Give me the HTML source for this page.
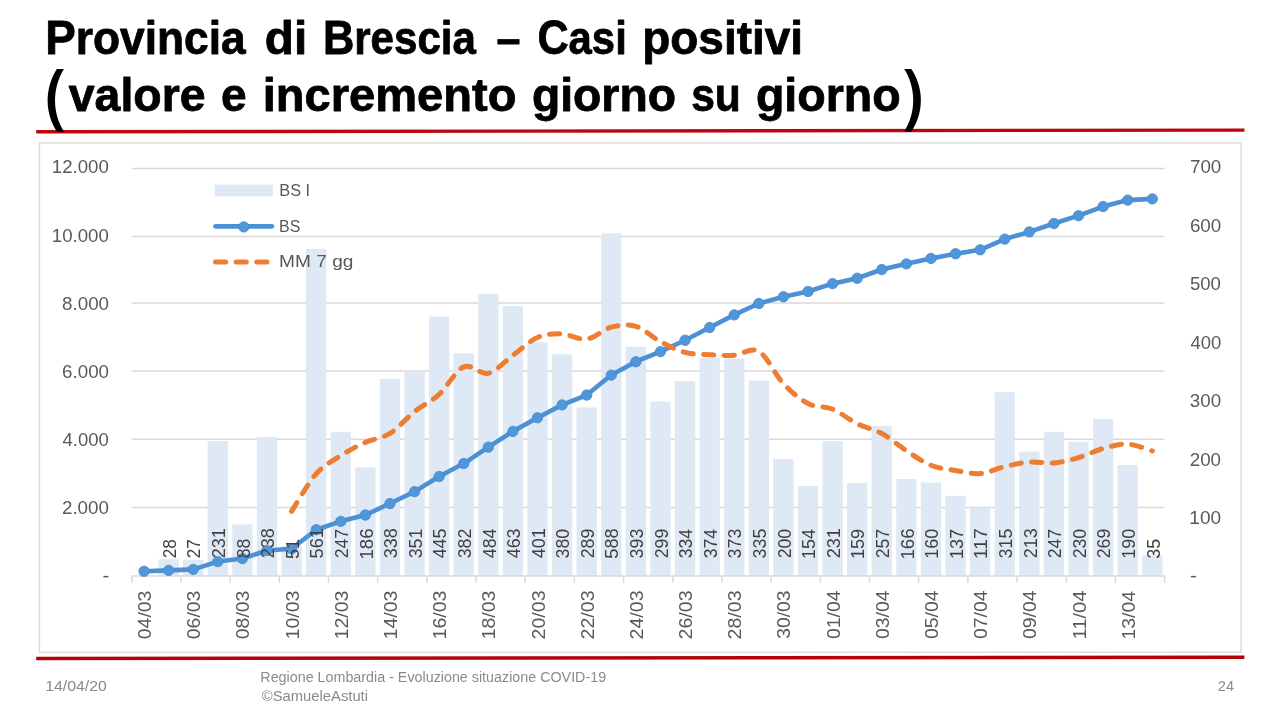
<!DOCTYPE html>
<html lang="it"><head><meta charset="utf-8"><title>Provincia di Brescia – Casi positivi</title>
<style>html,body{margin:0;padding:0;background:#fff;width:1280px;height:720px;overflow:hidden;font-family:"Liberation Sans",sans-serif}</style>
</head><body>
<svg width="1280" height="720" viewBox="0 0 1280 720" style="position:absolute;left:0;top:0;display:block;will-change:transform" font-family='"Liberation Sans", sans-serif'>
<rect x="0" y="0" width="1280" height="720" fill="#ffffff"/>
<rect x="39.5" y="142.9" width="1201.6" height="509.3" fill="#ffffff" stroke="#d9d9d9" stroke-width="1.3"/>
<line x1="131.75" y1="507.40" x2="1164.60" y2="507.40" stroke="#d9d9d9" stroke-width="1.5"/>
<line x1="131.75" y1="439.30" x2="1164.60" y2="439.30" stroke="#d9d9d9" stroke-width="1.5"/>
<line x1="131.75" y1="371.10" x2="1164.60" y2="371.10" stroke="#d9d9d9" stroke-width="1.5"/>
<line x1="131.75" y1="302.90" x2="1164.60" y2="302.90" stroke="#d9d9d9" stroke-width="1.5"/>
<line x1="131.75" y1="236.60" x2="1164.60" y2="236.60" stroke="#d9d9d9" stroke-width="1.5"/>
<line x1="131.75" y1="168.40" x2="1164.60" y2="168.40" stroke="#d9d9d9" stroke-width="1.5"/>
<g fill="#dee9f5">
<rect x="158.49" y="559.30" width="20.3" height="16.70"/>
<rect x="183.08" y="559.88" width="20.3" height="16.12"/>
<rect x="207.67" y="441.12" width="20.3" height="134.88"/>
<rect x="232.26" y="524.37" width="20.3" height="51.63"/>
<rect x="256.85" y="437.05" width="20.3" height="138.95"/>
<rect x="281.45" y="545.91" width="20.3" height="30.09"/>
<rect x="306.04" y="249.02" width="20.3" height="326.98"/>
<rect x="330.63" y="431.81" width="20.3" height="144.19"/>
<rect x="355.22" y="467.32" width="20.3" height="108.68"/>
<rect x="379.81" y="378.84" width="20.3" height="197.16"/>
<rect x="404.40" y="371.27" width="20.3" height="204.73"/>
<rect x="429.00" y="316.55" width="20.3" height="259.45"/>
<rect x="453.59" y="353.22" width="20.3" height="222.78"/>
<rect x="478.18" y="293.84" width="20.3" height="282.16"/>
<rect x="502.77" y="306.07" width="20.3" height="269.93"/>
<rect x="527.36" y="342.16" width="20.3" height="233.84"/>
<rect x="551.95" y="354.39" width="20.3" height="221.61"/>
<rect x="576.55" y="407.36" width="20.3" height="168.64"/>
<rect x="601.14" y="233.30" width="20.3" height="342.70"/>
<rect x="625.73" y="346.82" width="20.3" height="229.18"/>
<rect x="650.32" y="401.54" width="20.3" height="174.46"/>
<rect x="674.91" y="381.16" width="20.3" height="194.84"/>
<rect x="699.50" y="357.88" width="20.3" height="218.12"/>
<rect x="724.10" y="358.46" width="20.3" height="217.54"/>
<rect x="748.69" y="380.58" width="20.3" height="195.42"/>
<rect x="773.28" y="459.17" width="20.3" height="116.83"/>
<rect x="797.87" y="485.95" width="20.3" height="90.05"/>
<rect x="822.46" y="441.12" width="20.3" height="134.88"/>
<rect x="847.05" y="483.04" width="20.3" height="92.96"/>
<rect x="871.65" y="425.99" width="20.3" height="150.01"/>
<rect x="896.24" y="478.96" width="20.3" height="97.04"/>
<rect x="920.83" y="482.46" width="20.3" height="93.54"/>
<rect x="945.42" y="495.85" width="20.3" height="80.15"/>
<rect x="970.01" y="507.49" width="20.3" height="68.51"/>
<rect x="994.60" y="392.23" width="20.3" height="183.77"/>
<rect x="1019.20" y="451.60" width="20.3" height="124.40"/>
<rect x="1043.79" y="431.81" width="20.3" height="144.19"/>
<rect x="1068.38" y="441.71" width="20.3" height="134.29"/>
<rect x="1092.97" y="419.00" width="20.3" height="157.00"/>
<rect x="1117.56" y="464.99" width="20.3" height="111.01"/>
<rect x="1142.15" y="555.23" width="20.3" height="20.77"/>
</g>
<line x1="131.05" y1="576.00" x2="1165.30" y2="576.00" stroke="#d9d9d9" stroke-width="1.5"/>
<line x1="131.75" y1="576.00" x2="131.75" y2="582.60" stroke="#d9d9d9" stroke-width="1.5"/>
<line x1="180.93" y1="576.00" x2="180.93" y2="582.60" stroke="#d9d9d9" stroke-width="1.5"/>
<line x1="230.12" y1="576.00" x2="230.12" y2="582.60" stroke="#d9d9d9" stroke-width="1.5"/>
<line x1="279.30" y1="576.00" x2="279.30" y2="582.60" stroke="#d9d9d9" stroke-width="1.5"/>
<line x1="328.48" y1="576.00" x2="328.48" y2="582.60" stroke="#d9d9d9" stroke-width="1.5"/>
<line x1="377.67" y1="576.00" x2="377.67" y2="582.60" stroke="#d9d9d9" stroke-width="1.5"/>
<line x1="426.85" y1="576.00" x2="426.85" y2="582.60" stroke="#d9d9d9" stroke-width="1.5"/>
<line x1="476.03" y1="576.00" x2="476.03" y2="582.60" stroke="#d9d9d9" stroke-width="1.5"/>
<line x1="525.22" y1="576.00" x2="525.22" y2="582.60" stroke="#d9d9d9" stroke-width="1.5"/>
<line x1="574.40" y1="576.00" x2="574.40" y2="582.60" stroke="#d9d9d9" stroke-width="1.5"/>
<line x1="623.58" y1="576.00" x2="623.58" y2="582.60" stroke="#d9d9d9" stroke-width="1.5"/>
<line x1="672.77" y1="576.00" x2="672.77" y2="582.60" stroke="#d9d9d9" stroke-width="1.5"/>
<line x1="721.95" y1="576.00" x2="721.95" y2="582.60" stroke="#d9d9d9" stroke-width="1.5"/>
<line x1="771.13" y1="576.00" x2="771.13" y2="582.60" stroke="#d9d9d9" stroke-width="1.5"/>
<line x1="820.32" y1="576.00" x2="820.32" y2="582.60" stroke="#d9d9d9" stroke-width="1.5"/>
<line x1="869.50" y1="576.00" x2="869.50" y2="582.60" stroke="#d9d9d9" stroke-width="1.5"/>
<line x1="918.68" y1="576.00" x2="918.68" y2="582.60" stroke="#d9d9d9" stroke-width="1.5"/>
<line x1="967.87" y1="576.00" x2="967.87" y2="582.60" stroke="#d9d9d9" stroke-width="1.5"/>
<line x1="1017.05" y1="576.00" x2="1017.05" y2="582.60" stroke="#d9d9d9" stroke-width="1.5"/>
<line x1="1066.23" y1="576.00" x2="1066.23" y2="582.60" stroke="#d9d9d9" stroke-width="1.5"/>
<line x1="1115.42" y1="576.00" x2="1115.42" y2="582.60" stroke="#d9d9d9" stroke-width="1.5"/>
<line x1="1164.60" y1="576.00" x2="1164.60" y2="582.60" stroke="#d9d9d9" stroke-width="1.5"/>
<path d="M144.05,571.29 L168.64,570.34 L193.23,569.42 L217.82,561.58 L242.41,558.59 L267.00,550.50 L291.60,548.77 L316.19,529.72 L340.78,521.33 L365.37,515.02 L389.96,503.54 L414.55,491.62 L439.15,476.51 L463.74,463.54 L488.33,447.10 L512.92,431.38 L537.51,417.76 L562.10,404.86 L586.70,395.04 L611.29,375.08 L635.88,361.73 L660.47,351.58 L685.06,340.23 L709.65,327.53 L734.25,314.87 L758.84,303.49 L783.43,296.70 L808.02,291.47 L832.61,283.63 L857.20,278.23 L881.80,269.50 L906.39,263.86 L930.98,258.43 L955.57,253.78 L980.16,249.80 L1004.75,239.11 L1029.35,231.87 L1053.94,223.49 L1078.53,215.68 L1103.12,206.54 L1127.71,200.09 L1152.30,198.90" fill="none" stroke="#4c91d5" stroke-width="4.6" stroke-linejoin="round" stroke-linecap="round"/>
<g fill="#4f96db" stroke="#4a89c8" stroke-width="0.8">
<circle cx="144.05" cy="571.29" r="5.2"/>
<circle cx="168.64" cy="570.34" r="5.2"/>
<circle cx="193.23" cy="569.42" r="5.2"/>
<circle cx="217.82" cy="561.58" r="5.2"/>
<circle cx="242.41" cy="558.59" r="5.2"/>
<circle cx="267.00" cy="550.50" r="5.2"/>
<circle cx="291.60" cy="548.77" r="5.2"/>
<circle cx="316.19" cy="529.72" r="5.2"/>
<circle cx="340.78" cy="521.33" r="5.2"/>
<circle cx="365.37" cy="515.02" r="5.2"/>
<circle cx="389.96" cy="503.54" r="5.2"/>
<circle cx="414.55" cy="491.62" r="5.2"/>
<circle cx="439.15" cy="476.51" r="5.2"/>
<circle cx="463.74" cy="463.54" r="5.2"/>
<circle cx="488.33" cy="447.10" r="5.2"/>
<circle cx="512.92" cy="431.38" r="5.2"/>
<circle cx="537.51" cy="417.76" r="5.2"/>
<circle cx="562.10" cy="404.86" r="5.2"/>
<circle cx="586.70" cy="395.04" r="5.2"/>
<circle cx="611.29" cy="375.08" r="5.2"/>
<circle cx="635.88" cy="361.73" r="5.2"/>
<circle cx="660.47" cy="351.58" r="5.2"/>
<circle cx="685.06" cy="340.23" r="5.2"/>
<circle cx="709.65" cy="327.53" r="5.2"/>
<circle cx="734.25" cy="314.87" r="5.2"/>
<circle cx="758.84" cy="303.49" r="5.2"/>
<circle cx="783.43" cy="296.70" r="5.2"/>
<circle cx="808.02" cy="291.47" r="5.2"/>
<circle cx="832.61" cy="283.63" r="5.2"/>
<circle cx="857.20" cy="278.23" r="5.2"/>
<circle cx="881.80" cy="269.50" r="5.2"/>
<circle cx="906.39" cy="263.86" r="5.2"/>
<circle cx="930.98" cy="258.43" r="5.2"/>
<circle cx="955.57" cy="253.78" r="5.2"/>
<circle cx="980.16" cy="249.80" r="5.2"/>
<circle cx="1004.75" cy="239.11" r="5.2"/>
<circle cx="1029.35" cy="231.87" r="5.2"/>
<circle cx="1053.94" cy="223.49" r="5.2"/>
<circle cx="1078.53" cy="215.68" r="5.2"/>
<circle cx="1103.12" cy="206.54" r="5.2"/>
<circle cx="1127.71" cy="200.09" r="5.2"/>
<circle cx="1152.30" cy="198.90" r="5.2"/>
</g>
<text transform="translate(175.84,558.32) rotate(-90)" font-size="18.3" fill="#404040" textLength="19.13" lengthAdjust="spacingAndGlyphs">28</text>
<text transform="translate(200.43,558.32) rotate(-90)" font-size="18.3" fill="#404040" textLength="18.98" lengthAdjust="spacingAndGlyphs">27</text>
<text transform="translate(225.02,558.36) rotate(-90)" font-size="18.3" fill="#404040" textLength="30.27" lengthAdjust="spacingAndGlyphs">231</text>
<text transform="translate(249.61,558.35) rotate(-90)" font-size="18.3" fill="#404040" textLength="19.62" lengthAdjust="spacingAndGlyphs">88</text>
<text transform="translate(274.20,558.34) rotate(-90)" font-size="18.3" fill="#404040" textLength="30.11" lengthAdjust="spacingAndGlyphs">238</text>
<text transform="translate(298.80,558.92) rotate(-90)" font-size="18.3" fill="#404040" textLength="20.00" lengthAdjust="spacingAndGlyphs">51</text>
<text transform="translate(323.39,558.45) rotate(-90)" font-size="18.3" fill="#404040" textLength="30.26" lengthAdjust="spacingAndGlyphs">561</text>
<text transform="translate(347.98,558.34) rotate(-90)" font-size="18.3" fill="#404040" textLength="29.53" lengthAdjust="spacingAndGlyphs">247</text>
<text transform="translate(372.57,559.55) rotate(-90)" font-size="18.3" fill="#404040" textLength="31.07" lengthAdjust="spacingAndGlyphs">186</text>
<text transform="translate(397.16,558.37) rotate(-90)" font-size="18.3" fill="#404040" textLength="30.14" lengthAdjust="spacingAndGlyphs">338</text>
<text transform="translate(421.75,558.37) rotate(-90)" font-size="18.3" fill="#404040" textLength="29.70" lengthAdjust="spacingAndGlyphs">351</text>
<text transform="translate(446.35,558.25) rotate(-90)" font-size="18.3" fill="#404040" textLength="29.61" lengthAdjust="spacingAndGlyphs">445</text>
<text transform="translate(470.94,558.37) rotate(-90)" font-size="18.3" fill="#404040" textLength="29.70" lengthAdjust="spacingAndGlyphs">382</text>
<text transform="translate(495.53,558.25) rotate(-90)" font-size="18.3" fill="#404040" textLength="29.64" lengthAdjust="spacingAndGlyphs">484</text>
<text transform="translate(520.12,558.25) rotate(-90)" font-size="18.3" fill="#404040" textLength="29.80" lengthAdjust="spacingAndGlyphs">463</text>
<text transform="translate(544.71,558.27) rotate(-90)" font-size="18.3" fill="#404040" textLength="30.13" lengthAdjust="spacingAndGlyphs">401</text>
<text transform="translate(569.30,558.51) rotate(-90)" font-size="18.3" fill="#404040" textLength="29.68" lengthAdjust="spacingAndGlyphs">380</text>
<text transform="translate(593.90,558.36) rotate(-90)" font-size="18.3" fill="#404040" textLength="29.72" lengthAdjust="spacingAndGlyphs">289</text>
<text transform="translate(618.49,558.70) rotate(-90)" font-size="18.3" fill="#404040" textLength="30.42" lengthAdjust="spacingAndGlyphs">588</text>
<text transform="translate(643.08,558.38) rotate(-90)" font-size="18.3" fill="#404040" textLength="29.66" lengthAdjust="spacingAndGlyphs">393</text>
<text transform="translate(667.67,558.36) rotate(-90)" font-size="18.3" fill="#404040" textLength="29.72" lengthAdjust="spacingAndGlyphs">299</text>
<text transform="translate(692.26,558.35) rotate(-90)" font-size="18.3" fill="#404040" textLength="29.35" lengthAdjust="spacingAndGlyphs">334</text>
<text transform="translate(716.85,558.35) rotate(-90)" font-size="18.3" fill="#404040" textLength="29.35" lengthAdjust="spacingAndGlyphs">374</text>
<text transform="translate(741.45,558.38) rotate(-90)" font-size="18.3" fill="#404040" textLength="29.66" lengthAdjust="spacingAndGlyphs">373</text>
<text transform="translate(766.04,558.39) rotate(-90)" font-size="18.3" fill="#404040" textLength="29.71" lengthAdjust="spacingAndGlyphs">335</text>
<text transform="translate(790.63,558.35) rotate(-90)" font-size="18.3" fill="#404040" textLength="29.52" lengthAdjust="spacingAndGlyphs">200</text>
<text transform="translate(815.22,558.95) rotate(-90)" font-size="18.3" fill="#404040" textLength="29.77" lengthAdjust="spacingAndGlyphs">154</text>
<text transform="translate(839.81,558.36) rotate(-90)" font-size="18.3" fill="#404040" textLength="30.27" lengthAdjust="spacingAndGlyphs">231</text>
<text transform="translate(864.40,558.98) rotate(-90)" font-size="18.3" fill="#404040" textLength="30.17" lengthAdjust="spacingAndGlyphs">159</text>
<text transform="translate(889.00,558.34) rotate(-90)" font-size="18.3" fill="#404040" textLength="29.53" lengthAdjust="spacingAndGlyphs">257</text>
<text transform="translate(913.59,559.55) rotate(-90)" font-size="18.3" fill="#404040" textLength="31.07" lengthAdjust="spacingAndGlyphs">166</text>
<text transform="translate(938.18,558.76) rotate(-90)" font-size="18.3" fill="#404040" textLength="29.94" lengthAdjust="spacingAndGlyphs">160</text>
<text transform="translate(962.77,558.96) rotate(-90)" font-size="18.3" fill="#404040" textLength="30.13" lengthAdjust="spacingAndGlyphs">137</text>
<text transform="translate(987.36,559.08) rotate(-90)" font-size="18.3" fill="#404040" textLength="30.92" lengthAdjust="spacingAndGlyphs">117</text>
<text transform="translate(1011.95,558.39) rotate(-90)" font-size="18.3" fill="#404040" textLength="29.71" lengthAdjust="spacingAndGlyphs">315</text>
<text transform="translate(1036.55,558.35) rotate(-90)" font-size="18.3" fill="#404040" textLength="30.01" lengthAdjust="spacingAndGlyphs">213</text>
<text transform="translate(1061.14,558.34) rotate(-90)" font-size="18.3" fill="#404040" textLength="29.53" lengthAdjust="spacingAndGlyphs">247</text>
<text transform="translate(1085.73,558.35) rotate(-90)" font-size="18.3" fill="#404040" textLength="29.52" lengthAdjust="spacingAndGlyphs">230</text>
<text transform="translate(1110.32,558.36) rotate(-90)" font-size="18.3" fill="#404040" textLength="29.72" lengthAdjust="spacingAndGlyphs">269</text>
<text transform="translate(1134.91,558.76) rotate(-90)" font-size="18.3" fill="#404040" textLength="29.94" lengthAdjust="spacingAndGlyphs">190</text>
<text transform="translate(1159.50,558.65) rotate(-90)" font-size="18.3" fill="#404040" textLength="19.94" lengthAdjust="spacingAndGlyphs">35</text>
<path d="M291.60,511.27 C295.69,505.03 307.99,483.09 316.19,473.81 C324.38,464.53 332.58,460.83 340.78,455.60 C348.98,450.36 357.17,446.06 365.37,442.37 C373.57,438.69 381.77,438.60 389.96,433.47 C398.16,428.35 406.36,418.12 414.55,411.60 C422.75,405.09 430.95,401.84 439.15,394.39 C447.34,386.93 455.54,370.38 463.74,366.86 C471.93,363.34 480.13,375.19 488.33,373.26 C496.53,371.34 504.72,361.27 512.92,355.30 C521.12,349.33 529.32,340.98 537.51,337.42 C545.71,333.86 553.91,333.65 562.10,333.93 C570.30,334.20 578.50,340.21 586.70,339.08 C594.89,337.96 603.09,329.33 611.29,327.19 C619.48,325.06 627.68,323.86 635.88,326.28 C644.08,328.69 652.27,337.31 660.47,341.66 C668.67,346.01 676.87,350.23 685.06,352.39 C693.26,354.55 701.46,354.16 709.65,354.64 C717.85,355.11 726.05,355.76 734.25,355.22 C742.44,354.68 750.64,346.65 758.84,351.39 C767.03,356.13 775.23,374.97 783.43,383.66 C791.63,392.35 799.82,399.28 808.02,403.54 C816.22,407.79 824.42,405.82 832.61,409.19 C840.81,412.56 849.01,419.70 857.20,423.74 C865.40,427.79 873.60,428.98 881.80,433.47 C889.99,437.96 898.19,445.39 906.39,450.69 C914.58,455.98 922.78,461.94 930.98,465.24 C939.18,468.54 947.37,469.10 955.57,470.48 C963.77,471.87 971.97,474.21 980.16,473.56 C988.36,472.91 996.56,468.49 1004.75,466.57 C1012.95,464.66 1021.15,462.69 1029.35,462.08 C1037.54,461.47 1045.74,463.66 1053.94,462.91 C1062.13,462.17 1070.33,459.99 1078.53,457.59 C1086.73,455.19 1094.92,450.77 1103.12,448.53 C1111.32,446.28 1119.52,443.72 1127.71,444.12 C1135.91,444.52 1148.21,449.80 1152.30,450.94" fill="none" stroke="#ed7d31" stroke-width="5" stroke-linecap="round" stroke-dasharray="10.2 10.4"/>
<rect x="103.4" y="575.9" width="5" height="1.5" fill="#595959"/>
<rect x="1190.9" y="575.9" width="5" height="1.5" fill="#595959"/>
<rect x="214.7" y="184.7" width="58.3" height="11.6" fill="#dee9f5"/>
<line x1="215.6" y1="226.35" x2="271.8" y2="226.35" stroke="#4c91d5" stroke-width="4.9" stroke-linecap="round"/>
<circle cx="243.75" cy="226.9" r="5.2" fill="#4f96db" stroke="#4a89c8" stroke-width="0.8"/>
<path d="M215.5,262 L269.5,262" fill="none" stroke="#ed7d31" stroke-width="5" stroke-linecap="round" stroke-dasharray="10.2 10.4"/>
<text x="45.19" y="53.90" font-size="46.5" fill="#000" font-weight="bold" stroke="#000" stroke-width="0.8" stroke-linejoin="round" textLength="200.49" lengthAdjust="spacingAndGlyphs"><tspan font-size="48">P</tspan>rovincia</text>
<text x="264.86" y="53.90" font-size="46.5" fill="#000" font-weight="bold" stroke="#000" stroke-width="0.8" stroke-linejoin="round" textLength="42.32" lengthAdjust="spacingAndGlyphs">di</text>
<text x="322.91" y="53.90" font-size="46.5" fill="#000" font-weight="bold" stroke="#000" stroke-width="0.8" stroke-linejoin="round" textLength="152.96" lengthAdjust="spacingAndGlyphs"><tspan font-size="48">B</tspan>rescia</text>
<text x="496.46" y="53.90" font-size="46.5" fill="#000" font-weight="bold" stroke="#000" stroke-width="0.8" stroke-linejoin="round" textLength="23.96" lengthAdjust="spacingAndGlyphs">–</text>
<text x="537.43" y="53.90" font-size="46.5" fill="#000" font-weight="bold" stroke="#000" stroke-width="0.8" stroke-linejoin="round" textLength="89.35" lengthAdjust="spacingAndGlyphs"><tspan font-size="48">C</tspan>asi</text>
<text x="642.27" y="53.90" font-size="46.5" fill="#000" font-weight="bold" stroke="#000" stroke-width="0.8" stroke-linejoin="round" textLength="160.70" lengthAdjust="spacingAndGlyphs">positivi</text>
<text x="68.78" y="110.60" font-size="46.5" fill="#000" font-weight="bold" stroke="#000" stroke-width="0.8" stroke-linejoin="round" textLength="136.77" lengthAdjust="spacingAndGlyphs">valore</text>
<text x="220.97" y="110.60" font-size="46.5" fill="#000" font-weight="bold" stroke="#000" stroke-width="0.8" stroke-linejoin="round" textLength="25.64" lengthAdjust="spacingAndGlyphs">e</text>
<text x="262.70" y="110.60" font-size="46.5" fill="#000" font-weight="bold" stroke="#000" stroke-width="0.8" stroke-linejoin="round" textLength="253.83" lengthAdjust="spacingAndGlyphs">incremento</text>
<text x="531.92" y="110.60" font-size="46.5" fill="#000" font-weight="bold" stroke="#000" stroke-width="0.8" stroke-linejoin="round" textLength="144.06" lengthAdjust="spacingAndGlyphs">giorno</text>
<text x="691.18" y="110.60" font-size="46.5" fill="#000" font-weight="bold" stroke="#000" stroke-width="0.8" stroke-linejoin="round" textLength="49.69" lengthAdjust="spacingAndGlyphs">su</text>
<text x="755.90" y="110.60" font-size="46.5" fill="#000" font-weight="bold" stroke="#000" stroke-width="0.8" stroke-linejoin="round" textLength="144.83" lengthAdjust="spacingAndGlyphs">giorno</text>
<text x="61.93" y="514.20" font-size="17.9" fill="#595959" textLength="47.10" lengthAdjust="spacingAndGlyphs">2.000</text>
<text x="62.57" y="446.04" font-size="17.9" fill="#595959" textLength="46.30" lengthAdjust="spacingAndGlyphs">4.000</text>
<text x="62.06" y="377.88" font-size="17.9" fill="#595959" textLength="46.96" lengthAdjust="spacingAndGlyphs">6.000</text>
<text x="62.07" y="309.72" font-size="17.9" fill="#595959" textLength="47.02" lengthAdjust="spacingAndGlyphs">8.000</text>
<text x="51.83" y="241.56" font-size="17.9" fill="#595959" textLength="57.03" lengthAdjust="spacingAndGlyphs">10.000</text>
<text x="51.83" y="173.40" font-size="17.9" fill="#595959" textLength="57.03" lengthAdjust="spacingAndGlyphs">12.000</text>
<text x="1189.29" y="524.02" font-size="17.9" fill="#595959" textLength="31.81" lengthAdjust="spacingAndGlyphs">100</text>
<text x="1189.78" y="465.55" font-size="17.9" fill="#595959" textLength="31.26" lengthAdjust="spacingAndGlyphs">200</text>
<text x="1189.83" y="407.08" font-size="17.9" fill="#595959" textLength="31.25" lengthAdjust="spacingAndGlyphs">300</text>
<text x="1190.48" y="348.61" font-size="17.9" fill="#595959" textLength="30.87" lengthAdjust="spacingAndGlyphs">400</text>
<text x="1189.92" y="290.14" font-size="17.9" fill="#595959" textLength="30.94" lengthAdjust="spacingAndGlyphs">500</text>
<text x="1189.91" y="231.67" font-size="17.9" fill="#595959" textLength="31.40" lengthAdjust="spacingAndGlyphs">600</text>
<text x="1189.95" y="173.20" font-size="17.9" fill="#595959" textLength="31.37" lengthAdjust="spacingAndGlyphs">700</text>
<text transform="translate(151.05,639.20) rotate(-90)" font-size="18.3" fill="#595959" textLength="48.59" lengthAdjust="spacingAndGlyphs">04/03</text>
<text transform="translate(200.23,639.20) rotate(-90)" font-size="18.3" fill="#595959" textLength="48.59" lengthAdjust="spacingAndGlyphs">06/03</text>
<text transform="translate(249.41,639.20) rotate(-90)" font-size="18.3" fill="#595959" textLength="48.59" lengthAdjust="spacingAndGlyphs">08/03</text>
<text transform="translate(298.60,639.49) rotate(-90)" font-size="18.3" fill="#595959" textLength="48.93" lengthAdjust="spacingAndGlyphs">10/03</text>
<text transform="translate(347.78,639.49) rotate(-90)" font-size="18.3" fill="#595959" textLength="48.93" lengthAdjust="spacingAndGlyphs">12/03</text>
<text transform="translate(396.96,639.49) rotate(-90)" font-size="18.3" fill="#595959" textLength="48.93" lengthAdjust="spacingAndGlyphs">14/03</text>
<text transform="translate(446.15,639.49) rotate(-90)" font-size="18.3" fill="#595959" textLength="48.93" lengthAdjust="spacingAndGlyphs">16/03</text>
<text transform="translate(495.33,639.49) rotate(-90)" font-size="18.3" fill="#595959" textLength="48.93" lengthAdjust="spacingAndGlyphs">18/03</text>
<text transform="translate(544.51,639.40) rotate(-90)" font-size="18.3" fill="#595959" textLength="48.96" lengthAdjust="spacingAndGlyphs">20/03</text>
<text transform="translate(593.70,639.40) rotate(-90)" font-size="18.3" fill="#595959" textLength="48.96" lengthAdjust="spacingAndGlyphs">22/03</text>
<text transform="translate(642.88,639.40) rotate(-90)" font-size="18.3" fill="#595959" textLength="48.96" lengthAdjust="spacingAndGlyphs">24/03</text>
<text transform="translate(692.06,639.40) rotate(-90)" font-size="18.3" fill="#595959" textLength="48.96" lengthAdjust="spacingAndGlyphs">26/03</text>
<text transform="translate(741.25,639.40) rotate(-90)" font-size="18.3" fill="#595959" textLength="48.96" lengthAdjust="spacingAndGlyphs">28/03</text>
<text transform="translate(790.43,638.74) rotate(-90)" font-size="18.3" fill="#595959" textLength="48.31" lengthAdjust="spacingAndGlyphs">30/03</text>
<text transform="translate(839.61,639.09) rotate(-90)" font-size="18.3" fill="#595959" textLength="48.72" lengthAdjust="spacingAndGlyphs">01/04</text>
<text transform="translate(888.80,639.09) rotate(-90)" font-size="18.3" fill="#595959" textLength="48.72" lengthAdjust="spacingAndGlyphs">03/04</text>
<text transform="translate(937.98,639.09) rotate(-90)" font-size="18.3" fill="#595959" textLength="48.72" lengthAdjust="spacingAndGlyphs">05/04</text>
<text transform="translate(987.16,639.09) rotate(-90)" font-size="18.3" fill="#595959" textLength="48.72" lengthAdjust="spacingAndGlyphs">07/04</text>
<text transform="translate(1036.35,639.09) rotate(-90)" font-size="18.3" fill="#595959" textLength="48.72" lengthAdjust="spacingAndGlyphs">09/04</text>
<text transform="translate(1085.53,639.54) rotate(-90)" font-size="18.3" fill="#595959" textLength="49.05" lengthAdjust="spacingAndGlyphs">11/04</text>
<text transform="translate(1134.71,639.48) rotate(-90)" font-size="18.3" fill="#595959" textLength="48.56" lengthAdjust="spacingAndGlyphs">13/04</text>
<text x="279.32" y="196.30" font-size="17.2" fill="#595959" textLength="30.84" lengthAdjust="spacingAndGlyphs">BS I</text>
<text x="279.09" y="231.70" font-size="17.2" fill="#595959" textLength="21.24" lengthAdjust="spacingAndGlyphs">BS</text>
<text x="279.13" y="267.30" font-size="17.2" fill="#595959" textLength="74.27" lengthAdjust="spacingAndGlyphs">MM 7 gg</text>
<text x="45.16" y="691.30" font-size="14" fill="#8a8a8a" textLength="61.74" lengthAdjust="spacingAndGlyphs">14/04/20</text>
<text x="260.35" y="682.00" font-size="14" fill="#8a8a8a" textLength="345.77" lengthAdjust="spacingAndGlyphs">Regione Lombardia - Evoluzione situazione COVID-19</text>
<text x="261.75" y="701.00" font-size="14" fill="#8a8a8a" textLength="106.26" lengthAdjust="spacingAndGlyphs">©SamueleAstuti</text>
<text x="1217.79" y="691.30" font-size="14" fill="#8a8a8a" textLength="16.21" lengthAdjust="spacingAndGlyphs">24</text>
<line x1="36.2" y1="131.8" x2="1244.5" y2="130.1" stroke="#bb060f" stroke-width="3.4"/>
<line x1="36.2" y1="658.5" x2="1244.4" y2="657.2" stroke="#b2030b" stroke-width="3.4"/>
<path d="M64,69.1 L56.9,69.1 C44.6,88 44.6,113 56.9,131.7 L64,131.7 C52.1,113 52.1,88 64,69.1 Z" fill="#000"/>
<path d="M904.2,69.1 L911.3,69.1 C924.1,88 924.1,113 911.3,131.7 L904.2,131.7 C916.3,113 916.3,88 904.2,69.1 Z" fill="#000"/>
</svg>
</body></html>
